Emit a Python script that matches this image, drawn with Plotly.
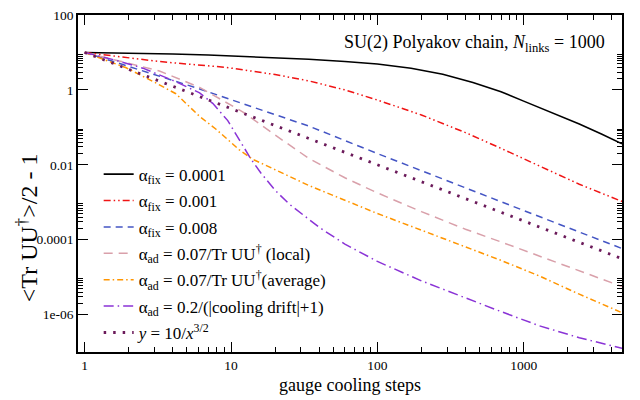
import plotly.graph_objects as go

# ---- data: gauge cooling steps vs <Tr UU^dagger>/2 - 1 ----
steps_fix_0001 = [1, 2, 4, 7, 15, 34, 60, 100, 170, 280, 450, 700, 1000, 1280, 1700,
                  2400, 3400, 4700]
vals_fix_0001 = [10, 9.66, 9.12, 8.51, 7.59, 6.61, 5.75, 4.90, 3.80, 2.63, 1.58, 0.891,
                 0.501, 0.339, 0.219, 0.123, 0.0661, 0.0363]

steps_fix_001 = [1, 2, 3.2, 5, 9.3, 20, 34, 60, 100, 200, 400, 700, 1280, 2400, 4700]
vals_fix_001 = [10, 7.08, 5.75, 4.90, 3.98, 2.57, 1.74, 1.0, 0.537, 0.214, 0.0724,
                0.0275, 0.00933, 0.00302, 0.00105]

steps_fix_008 = [1, 1.5, 2, 3.2, 6.1, 12, 34, 100, 300, 1000, 2400, 4700]
vals_fix_008 = [10, 6.0, 4.3, 2.35, 1.06, 0.43, 0.108, 0.02, 0.0037, 6.0e-4, 1.6e-4, 5.8e-5]

steps_ad_local = [1, 2, 3.24, 6.1, 12, 20.3, 34, 60, 100, 200, 400, 700, 1280, 2400, 4700]
vals_ad_local = [10, 5.2, 3.2, 1.17, 0.26, 0.06, 0.0148, 4.5e-3, 1.78e-3, 5.6e-4,
                 1.9e-4, 8.7e-5, 3.6e-5, 1.48e-5, 5.6e-6]

steps_ad_avg = [1, 1.92, 3, 4.2, 6.1, 7.9, 11.4, 14, 19.3, 27.9, 34, 100, 300, 700,
                1280, 2400, 4700]
vals_ad_avg = [10, 3.9, 1.6, 0.79, 0.196, 0.089, 0.025, 0.0141, 0.0079, 0.004, 0.0028,
               5.0e-4, 1.0e-4, 2.8e-5, 1.07e-5, 3.5e-6, 1.12e-6]

steps_ad_drift = [1, 1.6, 2.5, 4.2, 6.1, 7.5, 9.5, 11.8, 13.7, 16, 20, 25, 30, 40, 60,
                  100, 200, 400, 700, 1280, 2400, 4700]
vals_ad_drift = [10, 6.31, 3.80, 1.66, 0.832, 0.437, 0.151, 0.0355, 0.0141, 0.00603,
                 0.00209, 8.91e-4, 5.01e-4, 2.14e-4, 7.59e-5, 2.63e-5, 7.94e-6, 2.75e-6,
                 1.20e-6, 5.01e-7, 2.40e-7, 1.26e-7]

steps_ref = [1, 10, 100, 1000, 4700]
vals_ref = [10, 0.316, 0.01, 3.16e-4, 3.1e-5]

legend_labels = [
    "α<sub>fix</sub> = 0.0001",
    "α<sub>fix</sub> = 0.001",
    "α<sub>fix</sub> = 0.008",
    "α<sub>ad</sub> = 0.07/Tr UU<sup>†</sup> (local)",
    "α<sub>ad</sub> = 0.07/Tr UU<sup>†</sup>(average)",
    "α<sub>ad</sub> = 0.2/(|cooling drift|+1)",
    "<i>y</i> = 10/<i>x</i><sup>3/2</sup>",
]

y_major_vals = [100, 1, 0.01, 1e-4, 1e-6]
y_major_text = ["100", "1", "0.01", "0.0001", "1e-06"]
x_major_vals = [1, 10, 100, 1000]
x_major_text = ["1", "10", "100", "1000"]

FONT = "Liberation Serif"

series = [
    (steps_fix_0001, vals_fix_0001, "#000000", "solid", 1.6),
    (steps_fix_001, vals_fix_001, "#f01414", "7px,3px,1.5px,3px,1.5px,3px", 1.5),
    (steps_fix_008, vals_fix_008, "#4455c4", "7px,5px", 1.5),
    (steps_ad_local, vals_ad_local, "#d9a0aa", "9px,6px", 1.5),
    (steps_ad_avg, vals_ad_avg, "#ff9500", "6px,3px,1.5px,3px", 1.5),
    (steps_ad_drift, vals_ad_drift, "#8a33d6", "10px,4px,1.5px,4px", 1.5),
    (steps_ref, vals_ref, "#6b1a5a", "2.5px,7px", 2.8),
]

fig = go.Figure()
for i, ((xs, ys, color, dash, width), label) in enumerate(zip(series, legend_labels)):
    fig.add_trace(go.Scatter(
        x=xs, y=ys, mode="lines", name=label, legendgroup=f"g{i}",
        line=dict(color=color, dash=dash, width=width),
    ))

# minor ticks: 2..9 within each decade on x, and in the decade above each labelled power on y
x_minor = [k * 10 ** d for d in range(0, 4) for k in range(2, 10) if k * 10 ** d < 4700]
y_minor = [k * 10.0 ** d for d in (-6, -4, -2, 0) for k in range(2, 10)]

axis_common = dict(
    type="log", showgrid=False, zeroline=False,
    showline=True, linecolor="black", linewidth=1.5, mirror="allticks",
    ticks="inside", ticklen=10, tickwidth=1.2, tickcolor="black",
    tickfont=dict(family=FONT, size=13.5, color="black"),
)

fig.update_xaxes(
    **axis_common,
    range=[-0.0458, 3.672],
    tickmode="array", tickvals=x_major_vals, ticktext=x_major_text,
    minor=dict(ticks="inside", ticklen=5, tickwidth=1, tickcolor="black",
               tickmode="array", tickvals=x_minor),
    title=dict(text="gauge cooling steps", font=dict(family=FONT, size=18, color="black"),
               standoff=6),
)
fig.update_yaxes(
    **axis_common,
    range=[-7, 2],
    tickmode="array", tickvals=y_major_vals, ticktext=y_major_text,
    minor=dict(ticks="inside", ticklen=5, tickwidth=1, tickcolor="black",
               tickmode="array", tickvals=y_minor),
)

# vertical axis label
fig.add_annotation(
    xref="paper", yref="paper", x=-0.094, y=0.37, xanchor="center", yanchor="middle",
    text="<Tr UU<sup>†</sup>>/2 - 1", textangle=-90, showarrow=False,
    font=dict(family=FONT, size=24, color="black"),
)

fig.add_annotation(
    xref="paper", yref="paper", x=0.972, y=0.914, xanchor="right", yanchor="middle",
    text="SU(2) Polyakov chain, <i>N</i><sub>links</sub> = 1000",
    showarrow=False, font=dict(family=FONT, size=18, color="black"),
)

fig.update_layout(
    width=640, height=400,
    margin=dict(l=78, r=18, t=8, b=44),
    paper_bgcolor="white", plot_bgcolor="white",
    font=dict(family=FONT, color="black"),
    legend=dict(x=0.038, y=0.58, xanchor="left", yanchor="top",
                bgcolor="rgba(0,0,0,0)", font=dict(family=FONT, size=17, color="black"),
                tracegroupgap=1.3, itemwidth=30),
    showlegend=True,
)

fig.write_html("out.html")
